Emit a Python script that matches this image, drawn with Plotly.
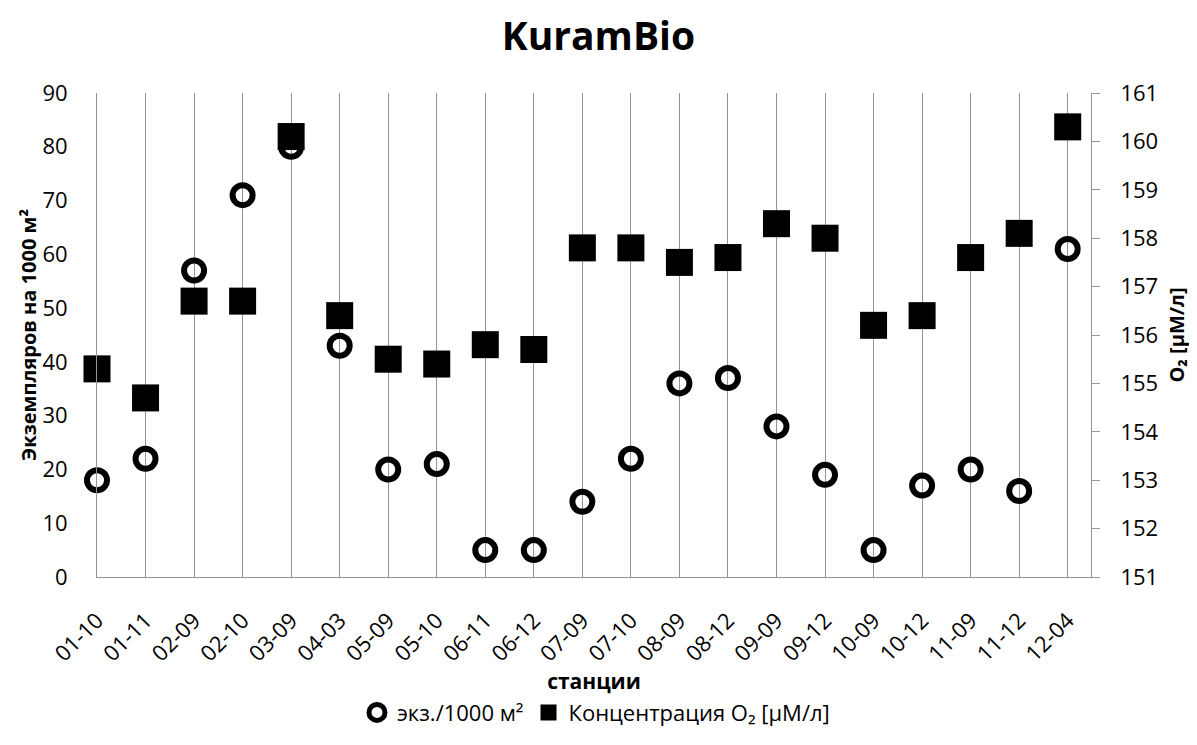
import plotly.graph_objects as go

stations = ["01-10", "01-11", "02-09", "02-10", "03-09", "04-03", "05-09", "05-10",
            "06-11", "06-12", "07-09", "07-10", "08-09", "08-12", "09-09", "09-12",
            "10-09", "10-12", "11-09", "11-12", "12-04"]
counts = [18, 22, 57, 71, 80, 43, 20, 21, 5, 5, 14, 22, 36, 37, 28, 19, 5, 17, 20, 16, 61]
oxygen = [155.3, 154.7, 156.7, 156.7, 160.1, 156.4, 155.5, 155.4, 155.8, 155.7, 157.8,
          157.8, 157.5, 157.6, 158.3, 158.0, 156.2, 156.4, 157.6, 158.1, 160.3]

FONT = "Open Sans"
GRID = "#949494"

fig = go.Figure()
fig.add_trace(go.Scatter(
    x=stations, y=counts, mode="markers", name="экз./1000 м²",
    yaxis="y2", cliponaxis=False,
    marker=dict(symbol="circle-open", size=20, color="black",
                line=dict(color="black", width=6)),
))
fig.add_trace(go.Scatter(
    x=stations, y=oxygen, mode="markers", name="Концентрация O₂ [μM/л]",
    yaxis="y", cliponaxis=False,
    marker=dict(symbol="square", size=27, color="black"),
))

fig.update_layout(
    width=1197, height=737,
    margin=dict(l=89, r=114, t=85, b=156),
    paper_bgcolor="white", plot_bgcolor="white",
    font=dict(family=FONT, color="black", size=20),
    title=dict(text="<b>KuramBio</b>", x=0.4933, xanchor="center", y=0.962, yanchor="middle",
               font=dict(family=FONT, size=39, color="black")),
    xaxis=dict(
        type="category", range=[0, 20.48], automargin=False,
        showgrid=True, gridcolor=GRID, gridwidth=1,
        showline=True, linecolor=GRID, linewidth=1,
        ticks="", ticklabelstandoff=21,
        tickangle=-45, tickfont=dict(size=22),
        title=dict(text="<b>станции</b>", font=dict(size=21), standoff=4),
        zeroline=False,
    ),
    yaxis=dict(
        side="right", range=[151, 161], dtick=1, automargin=False,
        showgrid=False, zeroline=False,
        showline=True, linecolor=GRID, linewidth=1,
        ticks="outside", ticklen=8, tickcolor=GRID,
        tickfont=dict(size=22), ticklabelstandoff=16,
        title=dict(text="<b>O₂ [μM/л]</b>", font=dict(size=20), standoff=12),
    ),
    yaxis2=dict(
        overlaying="y", side="left", range=[0, 90], dtick=10, automargin=False,
        showgrid=False, zeroline=False,
        showline=True, linecolor=GRID, linewidth=1,
        ticks="", tickfont=dict(size=22), ticklabelstandoff=24,
        title=dict(text="<b>Экземпляров на 1000 м²</b>", font=dict(size=20), standoff=0),
    ),
    legend=dict(orientation="h", x=0.502, xanchor="center", y=-0.2802, yanchor="middle",
                font=dict(size=22), itemsizing="trace", bgcolor="rgba(0,0,0,0)"),
    showlegend=True,
)

fig.write_html("out.html")
